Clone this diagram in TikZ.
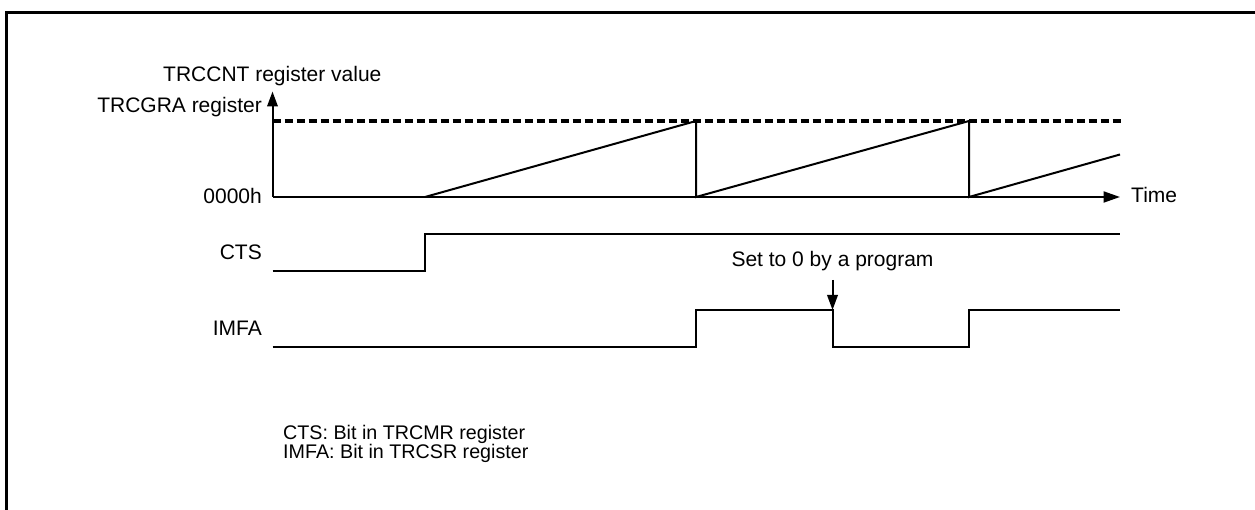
\documentclass[tikz,border=0pt]{standalone}
\usepackage{fontspec}
\setmainfont{Liberation Sans}
\usetikzlibrary{arrows.meta}
\begin{document}
\begin{tikzpicture}[x=1pt,y=-1pt,
  sig/.style={line width=2pt, line join=miter},
  thr/.style={line width=3.2pt, dash pattern=on 8.5pt off 3.5pt},
  frame/.style={line width=3pt, line cap=rect},
  lbl/.style={inner sep=0pt, font=\fontsize{21}{25}\selectfont},
  note/.style={inner sep=0pt, font=\fontsize{19.7}{23}\selectfont},
  tipb/.style={-{Triangle[length=15pt,width=10.5pt]}},
  tipt/.style={-{Triangle[length=16.5pt,width=11pt]}}
]
\useasboundingbox (0,0) rectangle (1255,510);
% frame
\draw[frame] (6,512) -- (6,13) -- (1257,13);
% coordinates
\coordinate (O) at (272.5,197);
\coordinate (Ytop) at (272.5,91.5);
\coordinate (Xend) at (1120,197);
\coordinate (G0) at (272.5,121);
\coordinate (G1) at (1121,121);
\coordinate (R0) at (425,197);
\coordinate (P1) at (696,121);
\coordinate (B1) at (696,197);
\coordinate (P2) at (969,121);
\coordinate (B2) at (969,197);
\coordinate (R3) at (1120,154.5);
% axes
\draw[sig,tipb] (O) -- (Ytop);
\draw[sig,tipt] (O) -- (Xend);
\draw[thr] (G0) -- (G1);
% sawtooth
\draw[sig] (R0) -- (P1) -- (B1) -- (P2) -- (B2) -- (R3);
% CTS
\coordinate (C0) at (272.5,271.5);
\coordinate (C1) at (425,271.5);
\coordinate (C2) at (425,234.5);
\coordinate (C3) at (1120,234.5);
\draw[sig] (C0) -- (C1) -- (C2) -- (C3);
% IMFA
\coordinate (I0) at (272.5,347);
\coordinate (I1) at (696,347);
\coordinate (I2) at (696,310);
\coordinate (I3) at (832.5,310);
\coordinate (I4) at (832.5,347);
\coordinate (I5) at (969,347);
\coordinate (I6) at (969,310);
\coordinate (I7) at (1120,310);
\draw[sig] (I0) -- (I1) -- (I2) -- (I3) -- (I4) -- (I5) -- (I6) -- (I7);
% set to 0 arrow
\node[lbl, anchor=base] (set) at (832.5,266.5) {Set to 0 by a program};
\coordinate (A0) at (832.5,280);
\draw[sig,tipb] (A0) -- (I3);
% labels
\node[lbl, anchor=base west] (ylab) at (163,82) {TRCCNT register value};
\node[lbl, anchor=base east] (gra) at (262,113) {TRCGRA register};
\node[lbl, anchor=base east] (zero) at (262,204) {0000h};
\node[lbl, anchor=base west] (time) at (1131,203) {Time};
\node[lbl, anchor=base east] (cts) at (262,260) {CTS};
\node[lbl, anchor=base east] (imfa) at (262,336) {IMFA};
% notes
\node[note, anchor=base west] (n1) at (283,439.5) {CTS: Bit in TRCMR register};
\node[note, anchor=base west] (n2) at (283,458) {IMFA: Bit in TRCSR register};
\end{tikzpicture}
\end{document}
